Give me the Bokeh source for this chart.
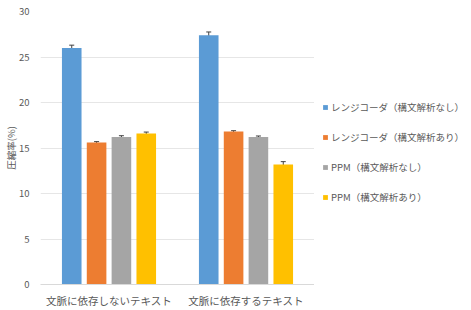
from bokeh.plotting import figure
from bokeh.layouts import row
from bokeh.models import (FactorRange, ColumnDataSource, Whisker, Legend, LegendItem,
                          SingleIntervalTicker, TeeHead)
from bokeh.transform import dodge
from bokeh.embed import file_html
from bokeh.resources import INLINE

categories = ["文脈に依存しないテキスト", "文脈に依存するテキスト"]
series_names = ["レンジコーダ（構文解析なし）", "レンジコーダ（構文解析あり）",
                "PPM（構文解析なし）", "PPM（構文解析あり）"]
range_nosyntax = [26.0, 27.4]
range_syntax = [15.6, 16.8]
ppm_nosyntax = [16.2, 16.2]
ppm_syntax = [16.6, 13.2]
err_range_nosyntax = [0.3, 0.35]
err_range_syntax = [0.1, 0.1]
err_ppm_nosyntax = [0.15, 0.12]
err_ppm_syntax = [0.15, 0.3]

colors = ["#5B9BD5", "#ED7D31", "#A5A5A5", "#FFC000"]
offsets = [-0.272, -0.0906, 0.0906, 0.272]
values = [range_nosyntax, range_syntax, ppm_nosyntax, ppm_syntax]
errors = [err_range_nosyntax, err_range_syntax, err_ppm_nosyntax, err_ppm_syntax]

FONT = "Noto Sans CJK JP"
TXT = "#595959"

p = figure(width=314, height=310, x_range=FactorRange(*categories, range_padding=0),
           y_range=(0, 30), output_backend="svg", toolbar_location=None,
           min_border_left=39, min_border_right=0, min_border_top=11, min_border_bottom=25)
p.outline_line_color = None

# legend-only panel to the right
p2 = figure(width=157, height=310, x_range=(0, 1), y_range=(0, 1),
            output_backend="svg", toolbar_location=None,
            x_axis_location=None, y_axis_location=None, min_border=0)
p2.outline_line_color = None
p2.grid.grid_line_color = None

items = []
for name, vals, errs, col, off in zip(series_names, values, errors, colors, offsets):
    src = ColumnDataSource(dict(cat=categories, top=vals,
                                upper=[v + e for v, e in zip(vals, errs)],
                                lower=[v - e for v, e in zip(vals, errs)]))
    p.vbar(x=dodge("cat", off, range=p.x_range), top="top", width=0.143,
           source=src, fill_color=col, line_color=None)
    w = Whisker(source=src, base=dodge("cat", off, range=p.x_range), upper="upper", lower="lower",
                line_color="#404040", line_width=1,
                upper_head=TeeHead(size=5, line_color="#404040", line_width=1),
                lower_head=TeeHead(size=5, line_color="#404040", line_width=1))
    p.add_layout(w)
    # zero-height proxy bar: only supplies the legend swatch
    proxy = p2.vbar(x=[0], top=[0], bottom=[0], width=0.0, fill_color=col, line_color=None)
    items.append(LegendItem(label=name, renderers=[proxy]))

legend = Legend(items=items, location=(8, 80), border_line_color=None,
                background_fill_alpha=0, padding=0, margin=0, spacing=16,
                glyph_width=6, glyph_height=6, label_height=14, label_standoff=3,
                label_text_font_size="9.5px", label_text_color=TXT,
                label_text_font=FONT)
p2.add_layout(legend)

p.xgrid.grid_line_color = None
p.ygrid.grid_line_color = "#E6E6E6"
p.yaxis.ticker = SingleIntervalTicker(interval=5)
p.yaxis.axis_line_color = None
p.yaxis.major_tick_line_color = None
p.yaxis.minor_tick_line_color = None
p.yaxis.major_tick_out = 0
p.yaxis.major_tick_in = 0
p.yaxis.minor_tick_out = 0
p.yaxis.major_label_standoff = 11
p.yaxis.major_label_text_font_size = "9.5px"
p.yaxis.major_label_text_color = TXT
p.yaxis.major_label_text_font = FONT
p.yaxis.axis_label = "圧縮率(%)"
p.yaxis.axis_label_text_font_size = "9.5px"
p.yaxis.axis_label_text_font_style = "normal"
p.yaxis.axis_label_text_color = TXT
p.yaxis.axis_label_text_font = FONT
p.yaxis.axis_label_text_line_height = 0.9
p.yaxis.axis_label_standoff = -2

p.xaxis.axis_line_color = "#D9D9D9"
p.xaxis.major_tick_line_color = None
p.xaxis.minor_tick_line_color = None
p.xaxis.major_tick_out = 0
p.xaxis.major_tick_in = 0
p.xaxis.minor_tick_out = 0
p.xaxis.major_label_standoff = 8
p.xaxis.major_label_text_font_size = "10.5px"
p.xaxis.major_label_text_color = TXT
p.xaxis.major_label_text_font = FONT

open("out.html", "w").write(file_html(row(p, p2), INLINE))
